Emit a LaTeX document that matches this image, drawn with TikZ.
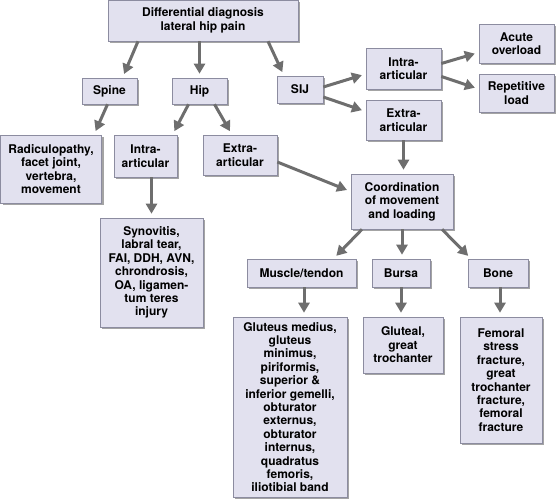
\documentclass[tikz,border=0pt]{standalone}
\usepackage{fontspec}
\setsansfont{TeX Gyre Heros}
\usetikzlibrary{arrows.meta,shadows}

\definecolor{boxfill}{HTML}{E2E1EF}
\definecolor{boxline}{HTML}{8C8CA0}
\definecolor{arrgray}{HTML}{6E6E6E}
\definecolor{shadowgray}{HTML}{A4A4A4}

\tikzset{every picture/.style={line width=0.75pt}}
\tikzset{
  dxbox/.style={draw=boxline, line width=0.6pt, fill=boxfill, inner sep=0pt,
    align=center, font=\sffamily\bfseries\fontsize{12}{13.4}\selectfont,
    drop shadow={shadow xshift=2pt, shadow yshift=-2pt, fill=shadowgray, opacity=1}},
  arr/.style={draw=arrgray, line width=3pt, shorten >=4pt,
    -{Triangle[length=10pt,width=11pt]}, fill=arrgray}
}

\begin{document}
\begin{tikzpicture}[x=1pt,y=1pt,yscale=-1,xscale=1]
\useasboundingbox (0,0) rectangle (556,500);
% first level
\node[dxbox, minimum width=190pt, minimum height=41pt] (top) at (203,20.5) {Differential diagnosis\\lateral hip pain};
\node[dxbox, minimum width=55pt, minimum height=26pt] (spine) at (109.5,91) {Spine};
\node[dxbox, minimum width=55pt, minimum height=26pt] (hip) at (199.5,91) {Hip};
\node[dxbox, minimum width=46pt, minimum height=27pt] (sij) at (300,89.5) {SIJ};
% spine and hip
\node[dxbox, minimum width=101pt, minimum height=68pt] (radic) at (51,169) {Radiculopathy,\\facet joint,\\vertebra,\\movement};
\node[dxbox, minimum width=63pt, minimum height=42pt] (intraH) at (145.5,156) {Intra-\\articular};
\node[dxbox, minimum width=74pt, minimum height=40pt] (extraH) at (240,155) {Extra-\\articular};
\node[dxbox, minimum width=103pt, minimum height=109pt] (synov) at (151.5,272.5) {Synovitis,\\labral tear,\\FAI, DDH, AVN,\\chrondrosis,\\OA, ligamen-\\tum teres\\injury};
% SIJ
\node[dxbox, minimum width=75pt, minimum height=41pt] (intraS) at (403.5,68.5) {Intra-\\articular};
\node[dxbox, minimum width=75pt, minimum height=40pt] (extraS) at (403.5,120) {Extra-\\articular};
\node[dxbox, minimum width=75pt, minimum height=39pt] (acute) at (516.5,43.5) {Acute\\overload};
\node[dxbox, minimum width=75pt, minimum height=38pt] (repet) at (516.5,93) {Repetitive\\load};
% coordination
\node[dxbox, minimum width=102pt, minimum height=55pt] (coord) at (402,201.5) {Coordination\\of movement\\and loading};
\node[dxbox, minimum width=109pt, minimum height=28pt] (muscle) at (301.5,273) {Muscle/tendon};
\node[dxbox, minimum width=58pt, minimum height=28pt] (bursa) at (401,273) {Bursa};
\node[dxbox, minimum width=60pt, minimum height=28pt] (bone) at (498,273) {Bone};
\node[dxbox, minimum width=114pt, minimum height=180pt] (glut) at (290,407) {Gluteus medius,\\gluteus\\minimus,\\piriformis,\\superior \&\\inferior gemelli,\\obturator\\externus,\\obturator\\internus,\\quadratus\\femoris,\\iliotibial band};
\node[dxbox, minimum width=80pt, minimum height=56pt] (gluteal) at (403,345) {Gluteal,\\great\\trochanter};
\node[dxbox, minimum width=82pt, minimum height=126pt] (femoral) at (501,380) {Femoral\\stress\\fracture,\\great\\trochanter\\fracture,\\femoral\\fracture};
% arrows
\draw[arr] ([xshift=-65pt]top.south) -- ([xshift=13pt]spine.north);
\draw[arr] (top.south -| hip.north) -- (hip.north);
\draw[arr] ([xshift=65pt]top.south) -- ([xshift=-16pt]sij.north);
\draw[arr] ([xshift=-2pt]spine.south) -- ([xshift=43pt]radic.north);
\draw[arr] ([xshift=-11pt]hip.south) -- ([xshift=27pt]intraH.north);
\draw[arr] ([xshift=15pt]hip.south) -- ([xshift=-8pt]extraH.north);
\draw[arr] (intraH.south -| synov.north) -- (synov.north);
\draw[arr] ([yshift=-2.5pt]sij.east) -- ([yshift=5.5pt]intraS.west);
\draw[arr] ([yshift=7.5pt]sij.east) -- ([yshift=-8.5pt]extraS.west);
\draw[arr] ([yshift=-5pt]intraS.east) -- ([yshift=9pt]acute.west);
\draw[arr] ([yshift=8pt]intraS.east) -- ([yshift=-4pt]repet.west);
\draw[arr] (extraS.south) -- (extraS.south |- coord.north);
\draw[arr] ([yshift=7pt]extraH.east) -- ([yshift=-10pt]coord.west);
\draw[arr] ([xshift=-40pt]coord.south) -- ([xshift=32pt]muscle.north);
\draw[arr] (coord.south) -- (coord.south |- bursa.north);
\draw[arr] ([xshift=40pt]coord.south) -- ([xshift=-27pt]bone.north);
\draw[arr] ([xshift=2.5pt]muscle.south) -- ([xshift=2.5pt]muscle.south |- glut.north);
\draw[arr] (bursa.south) -- (bursa.south |- gluteal.north);
\draw[arr] ([xshift=2pt]bone.south) -- ([xshift=2pt]bone.south |- femoral.north);
\end{tikzpicture}
\end{document}
